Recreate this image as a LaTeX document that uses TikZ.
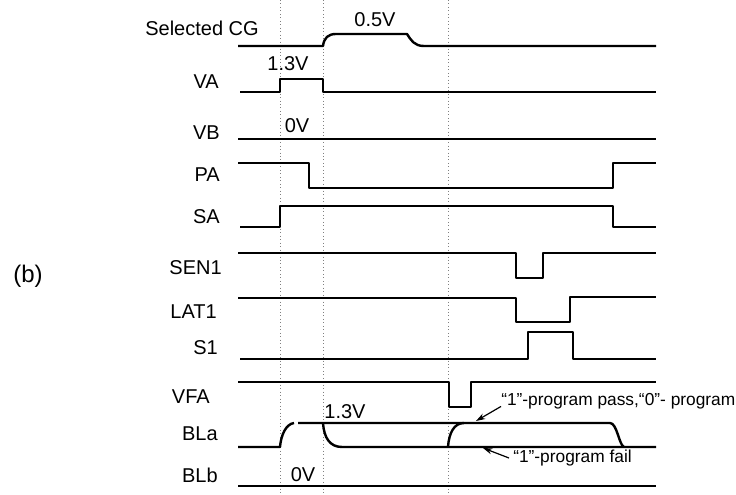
\documentclass[tikz,border=0pt]{standalone}
\usepackage{fontspec}
\setmainfont{Liberation Sans}
\usetikzlibrary{arrows.meta}

\begin{document}
\begin{tikzpicture}[x=0.75pt,y=-0.75pt,
  sig/.style={line width=1.8pt,line join=round},
  lbl/.style={font=\fontsize{15}{17}\selectfont,anchor=east,inner sep=0pt},
  volt/.style={font=\fontsize{15}{17}\selectfont,inner sep=0pt},
  note/.style={font=\fontsize{13}{15}\selectfont,anchor=west,inner sep=0pt},
  notearrow/.style={line width=0.9pt,-{Stealth[length=7pt,width=4.5pt]}}]

\useasboundingbox (0,0) rectangle (736,495);

% dotted time markers
\foreach \x in {280,323,448}
\draw[gray,dotted,line width=0.6pt] (\x,0) -- (\x,495);

% signal names
\node[lbl] (lblCG) at (259,28) {Selected CG};
\foreach \name/\x/\y/\txt in
{lblVA/219/82/VA,lblVB/220/133/VB,lblPA/220/175/PA,lblSA/220/217/SA,
 lblSEN/222/268/SEN1,lblLAT/217/312/LAT1,lblS/218/348/S1,
 lblVFA/210/397/VFA,lblBLa/218/434/BLa,lblBLb/218/475/BLb}
\node[lbl] (\name) at (\x,\y) {\txt};

\node[font=\fontsize{18}{20}\selectfont,inner sep=0pt] (panel) at (28,276) {(b)};

% levels
\node[volt] (vCG) at (375,20) {0.5V};
\node[volt] (vVA) at (288,64) {1.3V};
\node[volt] (vVB) at (297,126) {0V};
\node[volt] (vBLa) at (345,412) {1.3V};
\node[volt] (vBLb) at (303,475) {0V};

% Selected CG
\draw[sig] (238,46) -- (323,46) .. controls (324,38) and (328,34) .. (336,34)
  -- (407,34) .. controls (411,40) and (414,46) .. (424,46) -- (656,46);

% VA, VB
\draw[sig] (240,92) -- (280,92) -- (280,79) -- (323,79) -- (323,92) -- (656,92);
\draw[sig] (238,139) -- (656,139);

% PA, SA
\draw[sig] (238,163) -- (309,163) -- (309,188) -- (613,188) -- (613,163) -- (656,163);
\draw[sig] (240,227) -- (280,227) -- (280,206) -- (613,206) -- (613,227) -- (656,227);

% SEN1, LAT1, S1
\draw[sig] (238,253) -- (516,253) -- (516,278) -- (543,278) -- (543,253) -- (656,253);
\draw[sig] (238,298) -- (516,298) -- (516,322) -- (570,322) -- (570,297) -- (656,297);
\draw[sig] (240,359) -- (528,359) -- (528,332) -- (573,332) -- (573,359) -- (656,359);

% VFA
\draw[sig] (238,382) -- (449,382) -- (449,407) -- (471,407) -- (471,382) -- (656,382);

% BLa
\draw[sig] (238,447) -- (280,447) .. controls (281,435) and (286,424) .. (294,423);
\draw[sig] (298,423) -- (610,423) .. controls (617,423) and (619,445) .. (624,447);
\draw[sig] (323,423) .. controls (324,438) and (330,447) .. (342,447) -- (656,447);
\draw[sig] (448,447) .. controls (449,433) and (454,423) .. (464,423);

% BLb
\draw[sig] (238,486) -- (656,486);

% notes
\node[note] (passnote) at (501,401) {“1”-program pass,“0”- program};
\node[note] (failnote) at (513,458) {“1”-program fail};
\coordinate (passpt) at (476,421);
\coordinate (failpt) at (483,448);
\draw[notearrow] ([xshift=0pt,yshift=2pt]passnote.south west) -- (passpt);
\draw[notearrow] ([xshift=-3pt]failnote.west) -- (failpt);
\end{tikzpicture}
\end{document}
